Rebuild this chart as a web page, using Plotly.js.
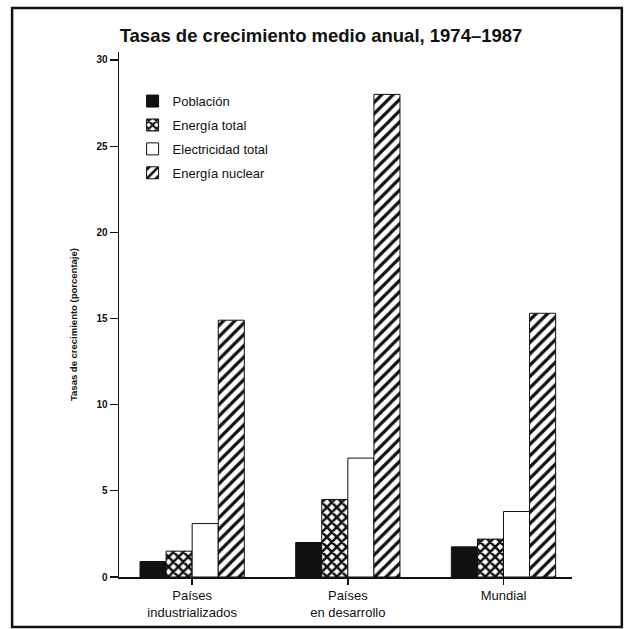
<!DOCTYPE html>
<html>
<head>
<meta charset="utf-8">
<script src="https://cdn.plot.ly/plotly-2.35.2.min.js"></script>
<style>html,body{margin:0;padding:0;background:#fff;}#chart{width:627px;height:629px;}</style>
</head>
<body>
<div id="chart"></div>
<script>
const categories = ["Países<br>industrializados", "Países<br>en desarrollo", "Mundial"];
const seriesNames = ["Población", "Energía total", "Electricidad total", "Energía nuclear"];
const poblacion = [0.9, 2.0, 1.75];
const energiaTotal = [1.5, 4.5, 2.2];
const electricidadTotal = [3.1, 6.9, 3.8];
const energiaNuclear = [14.9, 28.0, 15.3];
const yTicks = [0, 5, 10, 15, 20, 25, 30];

const values = [poblacion, energiaTotal, electricidadTotal, energiaNuclear];
const markers = [
  {color: "#111", line: {color: "#111", width: 1}},
  {color: "#fff", line: {color: "#111", width: 1}, pattern: {shape: "x", fgcolor: "#111", bgcolor: "#fff", size: 7, solidity: 0.6}},
  {color: "#fff", line: {color: "#111", width: 1}},
  {color: "#fff", line: {color: "#111", width: 1}, pattern: {shape: "/", fgcolor: "#111", bgcolor: "#fff", size: 8, solidity: 0.4}}
];
const xIdx = categories.map((c, i) => i);

const traces = values.map((v, k) => ({
  type: "bar",
  name: seriesNames[k],
  x: xIdx,
  y: v,
  marker: markers[k],
  legendgroup: "g" + k
}));

const font = "Liberation Sans, Arial, sans-serif";
const layout = {
  width: 627, height: 629,
  margin: {l: 119, r: 55, t: 52, b: 52},
  paper_bgcolor: "#fff", plot_bgcolor: "#fff",
  barmode: "group", bargap: 0.33, bargroupgap: 0,
  font: {family: font, color: "#111"},
  title: {text: "<b>Tasas de crecimiento medio anual, 1974–1987</b>", font: {family: font, size: 18.5, color: "#111"}, x: 0.512, xanchor: "center", y: 0.943, yanchor: "middle"},
  xaxis: {
    range: [-0.47, 2.44],
    tickvals: xIdx, ticktext: categories,
    showline: true, linecolor: "#111", linewidth: 1.5,
    showgrid: false, zeroline: false,
    ticks: "outside", tickson: "boundaries", ticklen: 6, tickcolor: "#111", tickwidth: 1.5,
    tickfont: {family: font, size: 13, color: "#111"}
  },
  yaxis: {
    range: [0, 30.46],
    tickvals: yTicks, ticktext: yTicks.map(t => "<b>" + t + "</b>"),
    showline: true, linecolor: "#111", linewidth: 1.5,
    showgrid: false, zeroline: false,
    ticks: "outside", ticklen: 8, tickcolor: "#111", tickwidth: 1.2,
    tickfont: {family: font, size: 10, color: "#111"}
  },
  annotations: [{
    text: "<b>Tasas de crecimiento (porcentaje)</b>",
    xref: "paper", yref: "paper", x: -0.1015, y: 0.48,
    xanchor: "center", yanchor: "middle", textangle: -90, showarrow: false,
    font: {family: font, size: 9.5, color: "#111"}
  }],
  legend: {
    x: 0.03, y: 0.935, xanchor: "left", yanchor: "top",
    font: {family: font, size: 13, color: "#111"},
    tracegroupgap: 4, bgcolor: "rgba(0,0,0,0)"
  },
  shapes: [{
    type: "rect", xref: "paper", yref: "paper",
    x0: -0.236, x1: 1.110, y0: -0.095, y1: 1.084,
    line: {color: "#111", width: 2.5}, fillcolor: "rgba(0,0,0,0)"
  }]
};

Plotly.newPlot("chart", traces, layout, {staticPlot: true});
</script>
</body>
</html>
